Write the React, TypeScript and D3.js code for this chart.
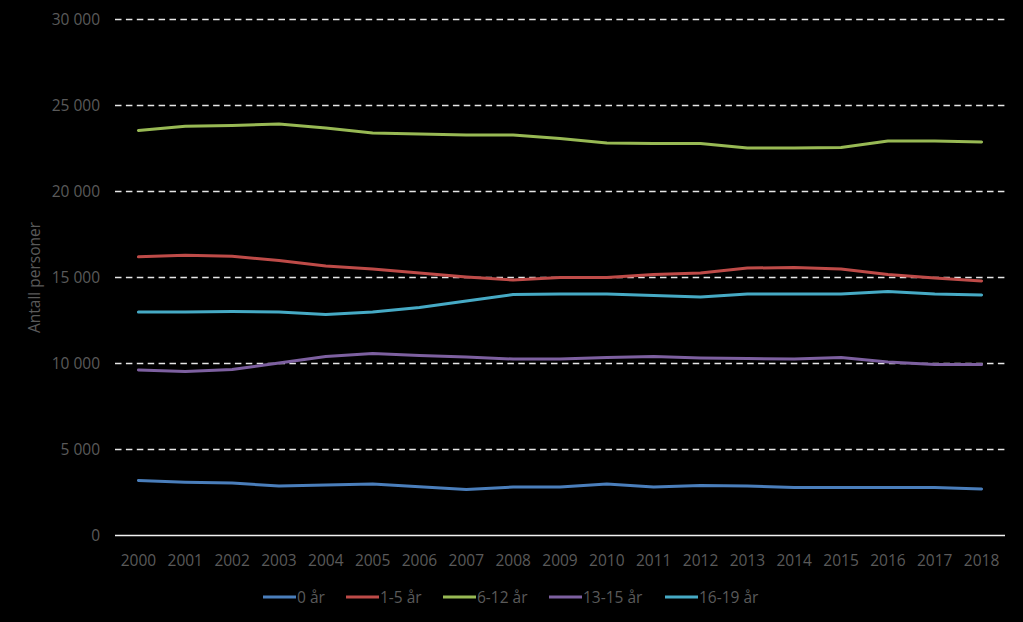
import React from "react";
import * as d3 from "d3";

const years = ["2000","2001","2002","2003","2004","2005","2006","2007","2008","2009","2010","2011","2012","2013","2014","2015","2016","2017","2018"];
const s0 = [3200,3100,3050,2880,2940,2990,2830,2670,2820,2820,3000,2820,2900,2880,2790,2790,2790,2790,2700];
const s1_5 = [16200,16300,16230,15990,15670,15500,15260,15030,14850,15000,15000,15170,15260,15550,15580,15500,15170,14970,14800];
const s6_12 = [23550,23800,23840,23920,23690,23400,23340,23290,23290,23080,22820,22790,22790,22530,22530,22560,22940,22940,22880];
const s13_15 = [9620,9530,9650,10030,10410,10580,10470,10380,10260,10260,10350,10410,10320,10290,10260,10350,10090,9940,9940];
const s16_19 = [13000,13000,13020,13000,12850,12990,13260,13630,14010,14040,14040,13950,13870,14040,14040,14040,14190,14040,13980];
const yTicks = [0,5000,10000,15000,20000,25000,30000];
const seriesNames = ["0 år","1-5 år","6-12 år","13-15 år","16-19 år"];
const seriesValues = [s0, s1_5, s6_12, s13_15, s16_19];
const seriesColors = ["#4A7EBB","#BE4B48","#98B954","#7D60A0","#46AAC5"];

const W = 1023, H = 622;
const left = 115, right = 1005, top = 19.5, bottom = 535.5;
const font = "'Open Sans', Lato, sans-serif";
const textColor = "#5a5a5a";
const fs = 15.5;

export default function App() {
  const x = d3.scalePoint<string>().domain(years).range([left, right]).padding(0.5);
  const y = d3.scaleLinear().domain([0, 30000]).range([bottom, top]);
  const line = d3.line<number>().x((_, i) => x(years[i])!).y(d => y(d));
  const fmt = (v: number) => (v === 0 ? "0" : d3.format(",")(v).replace(/,/g, " "));

  const legendX = [263, 346, 443, 549, 665];

  return (
    <svg width={W} height={H} style={{ position: "absolute", left: 0, top: 0, background: "#000" }}>
      <rect x={0} y={0} width={W} height={H} fill="#000" />
      {yTicks.map(t => (
        <g key={t}>
          {t !== 0 && (
            <line x1={left} x2={right} y1={y(t)} y2={y(t)} stroke="#e6e6e6" strokeWidth={1.4} strokeDasharray="6.5,4.4" />
          )}
          <text x={100} y={y(t)} dy="0.36em" textAnchor="end" fill={textColor} fontFamily={font} fontSize={fs}>{fmt(t)}</text>
        </g>
      ))}
      <line x1={left} x2={right} y1={y(0)} y2={y(0)} stroke="#f2f2f2" strokeWidth={1.5} />
      {years.map(yr => (
        <text key={yr} x={x(yr)} y={566} textAnchor="middle" fill={textColor} fontFamily={font} fontSize={fs}>{yr}</text>
      ))}
      <text transform={`translate(39.5,277.5) rotate(-90)`} textAnchor="middle" fill={textColor} fontFamily={font} fontSize={fs}>Antall personer</text>
      {seriesValues.map((vals, i) => (
        <path key={i} d={line(vals)!} fill="none" stroke={seriesColors[i]} strokeWidth={3} strokeLinejoin="round" strokeLinecap="round" />
      ))}
      {seriesNames.map((n, i) => (
        <g key={n}>
          <line x1={legendX[i]} x2={legendX[i] + 33} y1={597} y2={597} stroke={seriesColors[i]} strokeWidth={3} />
          <text x={legendX[i] + 34} y={597} dy="0.36em" fill={textColor} fontFamily={font} fontSize={fs}>{n}</text>
        </g>
      ))}
    </svg>
  );
}
